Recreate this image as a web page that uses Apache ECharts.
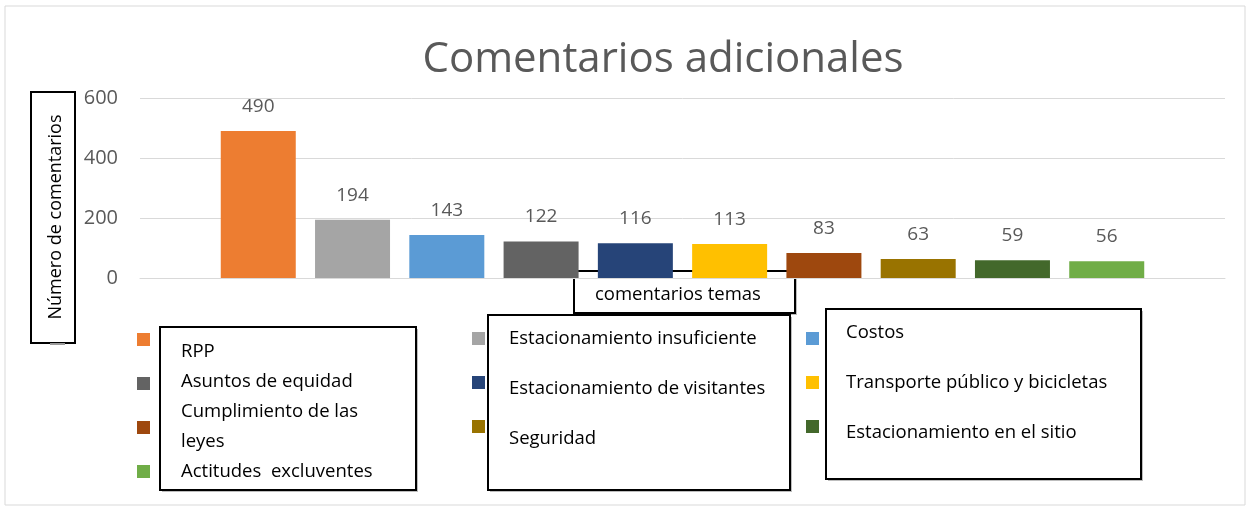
<!DOCTYPE html>
<html>
<head>
<meta charset="utf-8">
<script src="https://cdn.jsdelivr.net/npm/echarts@6/dist/echarts.min.js"></script>
<style>
  html, body { margin: 0; padding: 0; background: #fff; }
  #chart { width: 1250px; height: 508px; }
</style>
</head>
<body>
<div id="chart"></div>
<script>
const TITLE = 'Comentarios adicionales';
const Y_TITLE = 'Número de comentarios';
const X_TITLE = 'comentarios temas';
const topics = [
  'RPP', 'Estacionamiento insuficiente', 'Costos',
  'Asuntos de equidad', 'Estacionamiento de visitantes', 'Transporte público y bicicletas',
  'Cumplimiento de las leyes', 'Seguridad', 'Estacionamiento en el sitio',
  'Actitudes  excluventes'
];
const counts = [490, 194, 143, 122, 116, 113, 83, 63, 59, 56];
const colors = ['#ED7D31', '#A5A5A5', '#5B9BD5', '#636363', '#264478',
                '#FFC000', '#9E480E', '#997300', '#43682B', '#70AD47'];
const yTicks = { min: 0, max: 600, interval: 200 };

const FONT = '"Open Sans"';

// one series per topic, like the original single-category chart
const series = topics.map((name, i) => ({
  name: name,
  type: 'bar',
  data: [counts[i]],
  barWidth: 75,
  barGap: '25.7%',
  itemStyle: { color: colors[i] },
  label: {
    show: true, position: 'top', distance: 15,
    color: '#595959', fontSize: 19, fontFamily: FONT
  }
}));

// legend grid is row-major in 3 columns; text is covered by the boxes
const col = c => topics.filter((_, i) => i % 3 === c);
const legendBase = {
  orient: 'vertical', itemWidth: 13, itemHeight: 13, itemGap: 31,
  icon: 'rect', formatter: () => '', selectedMode: false,
  textStyle: { fontSize: 1 }
};
const legends = [
  Object.assign({}, legendBase, { left: 132, top: 328, data: col(0) }),
  Object.assign({}, legendBase, { left: 467, top: 327, data: col(1) }),
  Object.assign({}, legendBase, { left: 801, top: 327, data: col(2) })
];

const TXT = '18.5px ' + FONT;

function textBox(x, y, w, h, lines, tx, ty, lh) {
  return {
    type: 'group', z: 100,
    children: [
      { type: 'rect', shape: { x: x + 2, y: y + 2, width: w, height: h },
        style: { fill: '#bdbdbd' } },
      { type: 'rect', shape: { x: x, y: y, width: w, height: h },
        style: { fill: '#fff', stroke: '#000', lineWidth: 2 } },
      { type: 'text', x: tx, y: ty - lh / 2,
        style: { text: lines.join('\n'), fill: '#000', font: TXT,
                 lineHeight: lh, verticalAlign: 'top' } }
    ]
  };
}

const box1 = col(0).slice();
box1.splice(2, 1, 'Cumplimiento de las', 'leyes');

const chart = echarts.init(document.getElementById('chart'));
chart.setOption({
  animation: false,
  title: {
    text: TITLE, left: 658, top: 34, textAlign: 'center',
    textStyle: { fontSize: 42, fontWeight: 'normal', color: '#595959', fontFamily: FONT }
  },
  legend: legends,
  grid: { left: 140, right: 25, top: 98, bottom: 230 },
  xAxis: {
    type: 'category', data: [''],
    axisLine: { lineStyle: { color: '#d9d9d9' } },
    axisTick: { show: false }, axisLabel: { show: false }
  },
  yAxis: {
    type: 'value', min: yTicks.min, max: yTicks.max, interval: yTicks.interval,
    axisLabel: { color: '#595959', fontSize: 20, fontFamily: FONT, margin: 22 },
    splitLine: { lineStyle: { color: '#d9d9d9' } }
  },
  series: series,
  graphic: [
    { type: 'rect', z: -1, shape: { x: 5, y: 6, width: 1240, height: 499 },
      style: { fill: 'none', stroke: '#d9d9d9', lineWidth: 1 } },
    { type: 'rect', z: 100, shape: { x: 50, y: 343, width: 15, height: 2 },
      style: { fill: '#9a9a9a' } },
    { type: 'group', z: 100, children: [
      { type: 'rect', shape: { x: 31, y: 92, width: 44, height: 251 },
        style: { fill: '#fff', stroke: '#000', lineWidth: 2 } },
      { type: 'text', x: 56, y: 217, rotation: Math.PI / 2,
        style: { text: Y_TITLE, fill: '#000', font: '18px ' + FONT,
                 align: 'center', verticalAlign: 'middle' } }
    ] },
    textBox(574, 271, 221, 42, [X_TITLE], 595, 295, 20),
    textBox(160, 327, 256, 163, box1, 181, 352, 30),
    textBox(488, 315, 302, 175, col(1), 509, 339, 50),
    textBox(826, 309, 315, 170, col(2), 846, 333, 50)
  ]
});
</script>
</body>
</html>
